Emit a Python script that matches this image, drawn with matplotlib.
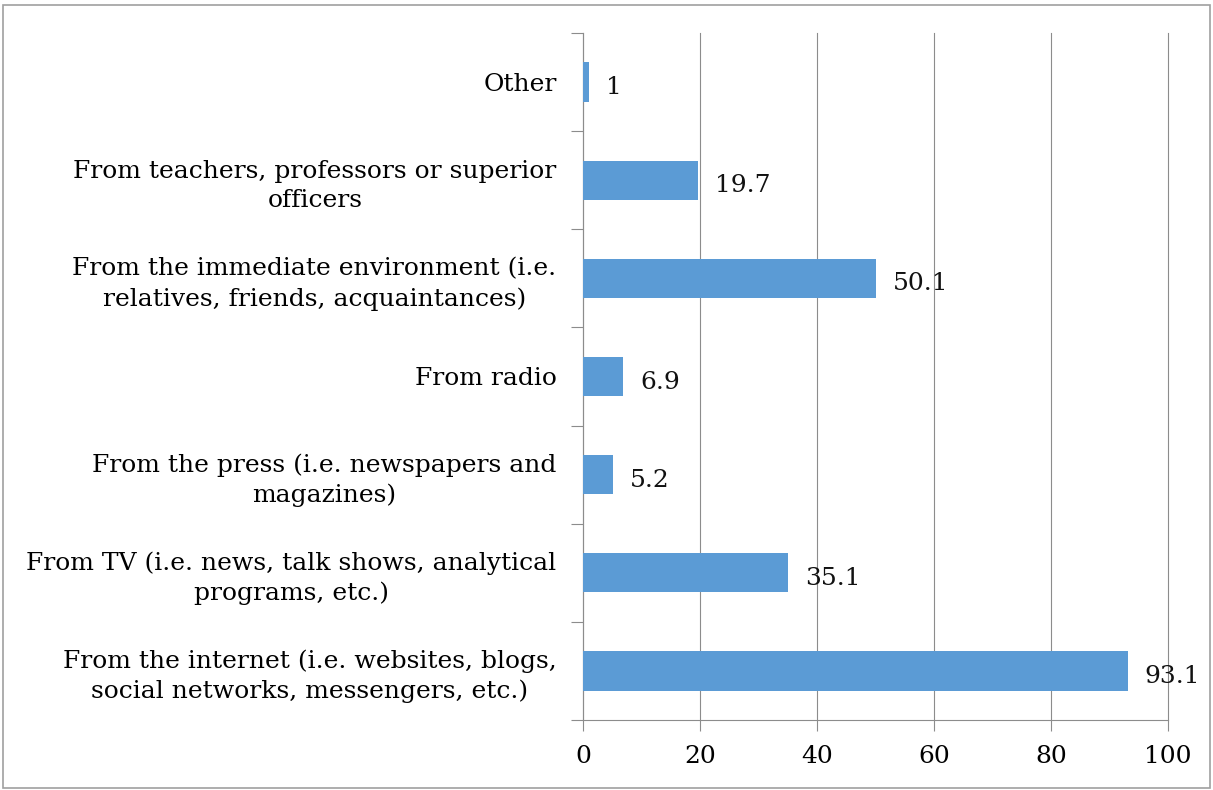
import matplotlib.pyplot as plt
from matplotlib.patches import Rectangle
from matplotlib.ticker import FixedLocator

# Sources of information, share of respondents (%)

categories = [
    'From the internet (i.e. websites, blogs,\nsocial networks, messengers, etc.)',
    'From TV (i.e. news, talk shows, analytical\nprograms, etc.)',
    'From the press (i.e. newspapers and\nmagazines)',
    'From radio',
    'From the immediate environment (i.e.\nrelatives, friends, acquaintances)',
    'From teachers, professors or superior\nofficers',
    'Other',
]
values = [93.1, 35.1, 5.2, 6.9, 50.1, 19.7, 1]
value_labels = ['93.1', '35.1', '5.2', '6.9', '50.1', '19.7', '1']
x_ticks = [0, 20, 40, 60, 80, 100]

bar_color = '#5B9BD5'
line_color = '#8C8C8C'
fs = 18

plt.rcParams['font.family'] = ['DejaVu Serif']

fig = plt.figure(figsize=(12.13, 7.9), dpi=100)
ax = fig.add_axes([583 / 1213, 1 - 720 / 790, 585 / 1213, 687 / 790])

pos = list(range(len(categories)))
ax.barh(pos, values, height=0.4, color=bar_color, zorder=3)

for p, v, lab in zip(pos, values, value_labels):
    ax.annotate(lab, (v, p), xytext=(12, -4), textcoords='offset points',
                va='center', ha='left', fontsize=fs, color='#111111')

ax.set_xlim(0, 100)
ax.set_ylim(-0.5, len(categories) - 0.5)
ax.set_xticks(x_ticks)
ax.set_xticklabels([str(t) for t in x_ticks], fontsize=fs)
ax.set_yticks(pos)
ax.set_yticklabels(categories, fontsize=fs, ha='right', multialignment='center',
                   linespacing=1.35)
ax.yaxis.set_minor_locator(FixedLocator([i - 0.5 for i in range(len(categories) + 1)]))

ax.tick_params(axis='y', which='major', length=0, pad=19)
ax.tick_params(axis='y', which='minor', length=9, width=0.8, color=line_color)
ax.tick_params(axis='x', which='major', length=8, width=0.8, color=line_color, pad=10)

ax.grid(axis='x', color=line_color, linewidth=0.8, zorder=0)
for gl in ax.get_xgridlines():
    gl.set_clip_on(False)
for side in ['top', 'right']:
    ax.spines[side].set_visible(False)
for side in ['left', 'bottom']:
    ax.spines[side].set_color(line_color)
    ax.spines[side].set_linewidth(0.8)

# thin frame around the whole chart
fig.patches.append(Rectangle((3 / 1213, 2 / 790), 1207 / 1213, 783 / 790,
                             transform=fig.transFigure, fill=False,
                             edgecolor='#A0A0A0', linewidth=1.2))

plt.savefig('out.png', dpi=100)
